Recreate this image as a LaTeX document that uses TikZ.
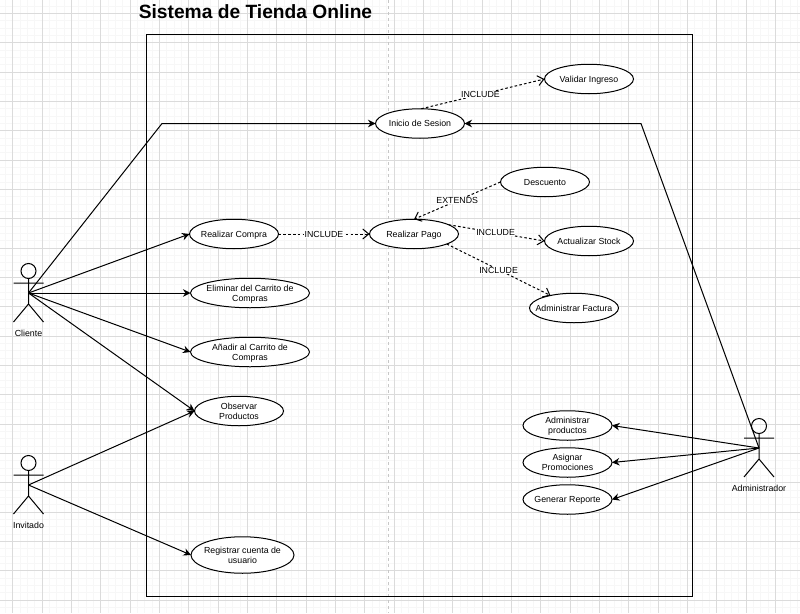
\documentclass[tikz,border=0pt]{standalone}
\usepackage{fontspec}
\setmainfont{Liberation Sans}
\usetikzlibrary{arrows.meta,shapes.geometric}
\begin{document}
\begin{tikzpicture}[x=1pt,y=-1pt,
  font=\fontsize{8.8}{10.2}\selectfont,
  usecase/.style={draw, ellipse, align=center, fill=white, line width=1pt,
               minimum width=#1, minimum height=29.5pt, text depth=0pt,
               inner xsep=-20pt, inner ysep=-5pt, outer sep=0pt},
  usecase/.default=89pt,
  arr/.style={-{Stealth[length=7.5pt,width=7.5pt]}, line width=1pt},
  dep/.style={-{Straight Barb[length=6pt,width=10pt]}, dash pattern=on 2.6pt off 2.2pt, line width=1pt},
  deplabel/.style={fill=white, inner sep=0.5pt},
  actorlabel/.style={inner sep=0pt},
  actor/.pic={
    \draw[line width=1pt] (0,-22) circle (7.5);
    \draw[line width=1pt] (0,-14.5) -- (0,11) (-15,-10) -- (15,-10)
      (-15,29) -- (0,11) -- (15,29);
  }
]
  \useasboundingbox (0,0) rectangle (800,613);

  % grid
  \foreach \i in {0,...,110} {
    \draw[black!3, line width=0.5pt] (5.33+7.333*\i,0) -- (5.33+7.333*\i,613);
  }
  \foreach \i in {0,...,84} {
    \draw[black!3, line width=0.5pt] (0,6+7.333*\i) -- (800,6+7.333*\i);
  }
  \foreach \i in {0,...,27} {
    \draw[black!14, line width=0.7pt] (12.67+29.333*\i,0) -- (12.67+29.333*\i,613);
  }
  \foreach \i in {0,...,20} {
    \draw[black!14, line width=0.7pt] (0,13.33+29.333*\i) -- (800,13.33+29.333*\i);
  }
  \draw[black!22, dashed, line width=0.8pt] (388,0) -- (388,613);

  \node[font=\fontsize{19.2}{24}\selectfont\bfseries, inner sep=0pt] (title) at (255.5,12)
        {Sistema de Tienda Online};
  \node[draw, line width=1pt, minimum width=546pt, minimum height=561.5pt,
        inner sep=0pt, outer sep=0pt] (sistema) at (419.5,315.25) {};

  \node[usecase] (inicio)    at (420,123.5) {Inicio de Sesion};
  \node[usecase] (validar)   at (589,79)  {Validar Ingreso};
  \node[usecase] (descuento) at (545,182) {Descuento};
  \node[usecase] (compra)    at (234,234) {Realizar Compra};
  \node[usecase] (pago)      at (414,234) {Realizar Pago};
  \node[usecase] (stock)     at (589,241) {Actualizar Stock};
  \node[usecase] (factura)   at (574,308) {Administrar Factura};
  \node[usecase=119pt] (eliminar) at (250,293) {Eliminar del Carrito de\\Compras};
  \node[usecase=119pt] (anadir)   at (250,352) {Añadir al Carrito de\\Compras};
  \node[usecase] (observar) at (239,411)   {Observar\\Productos};
  \node[usecase=103pt, minimum height=36.5pt] (registrar) at (242.5,555) {Registrar cuenta de\\usuario};
  \node[usecase] (productos)  at (567.5,425.5) {Administrar\\productos};
  \node[usecase] (promos)     at (567.5,462.5) {Asignar\\Promociones};
  \node[usecase] (reporte)    at (567.5,499.5) {Generar Reporte};

  \coordinate (cliente) at (28.5,293);
  \coordinate (invitado) at (28.5,485);
  \coordinate (admin) at (759,448);
  \coordinate (clientebend) at (162,123.5);
  \coordinate (adminbend) at (641,123.5);

  \pic at (cliente) {actor};
  \pic at (invitado) {actor};
  \pic at (admin) {actor};
  \node[actorlabel] (clientelabel) at (28.5,333) {Cliente};
  \node[actorlabel] (invitadolabel) at (28.5,525) {Invitado};
  \node[actorlabel] (adminlabel) at (759,488) {Administrador};

  \draw[arr] (cliente) -- (clientebend) -- (inicio.west);
  \draw[arr] (cliente) -- (compra.west);
  \draw[arr] (cliente) -- (eliminar.west);
  \draw[arr] (cliente) -- (anadir.west);
  \draw[arr] (cliente) -- (observar.west);
  \draw[arr] (invitado) -- (observar.west);
  \draw[arr] (invitado) -- (registrar.west);
  \draw[arr] (admin) -- (adminbend) -- (inicio.east);
  \draw[arr] (admin) -- (productos.east);
  \draw[arr] (admin) -- (promos.east);
  \draw[arr] (admin) -- (reporte.east);

  \draw[dep] (inicio.85) -- node[deplabel, pos=0.48] {INCLUDE} (validar.west);
  \draw[dep] (compra.east) -- node[deplabel, pos=0.5] {INCLUDE} (pago.west);
  \draw[dep] (descuento.west) -- node[deplabel, pos=0.5] {EXTENDS} (pago.north);
  \draw[dep] (pago.15) -- node[deplabel, pos=0.49] {INCLUDE} (stock.west);
  \draw[dep] (pago.-17) -- node[deplabel, pos=0.5, yshift=-0.8pt] {INCLUDE} (factura.152);
\end{tikzpicture}
\end{document}
